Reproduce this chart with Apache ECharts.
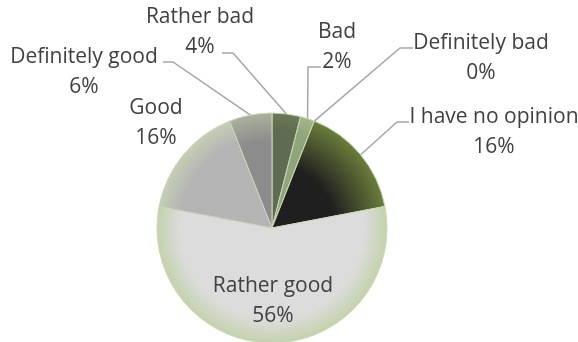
<!DOCTYPE html>
<html>
<head>
<meta charset="utf-8">
<script src="https://cdn.jsdelivr.net/npm/echarts@6/dist/echarts.min.js"></script>
<style>
html,body{margin:0;padding:0;background:#fff;}
#chart{width:578px;height:342px;}
</style>
</head>
<body>
<div id="chart"></div>
<script>
// ---- data ----
const categories = ['Rather bad', 'Bad', 'Definitely bad', 'I have no opinion', 'Rather good', 'Good', 'Definitely good'];
const values = [4, 2, 0, 16, 56, 16, 6];

// ---- styles / layout ----
const CX = 272, CY = 228, R = 115;
const baseColors = ['#5f6b52', '#91a57a', '#7d8f5e', '#1f1f1f', '#dcdcdc', '#b4b4b4', '#8c8c8c'];
const edgeColors = ['#6a7a55', '#a3b78a', '#8ea070', '#6b7e3a', '#c3d2ab', '#c4cfb4', '#a9b19c'];
const innerStops = [0.85, 0.85, 0.85, 0.55, 0.8, 0.8, 0.75];
// label block centre, bend and end of leader line
const labelLayoutCfg = {
  'Rather bad':       {x: 200, y: 32,  bend: [233, 53],  end: [222, 53]},
  'Bad':              {x: 337, y: 47,  bend: [308, 67],  end: [321, 67]},
  'Definitely bad':   {x: 481, y: 58,  bend: [400, 48],  end: [413, 48]},
  'I have no opinion':{x: 494, y: 132, bend: [397, 122], end: [409, 122]},
  'Rather good':      {x: 273, y: 301},
  'Good':             {x: 156, y: 123},
  'Definitely good':  {x: 84,  y: 72,  bend: [173, 62],  end: [163, 62]}
};

const total = values.reduce((a, b) => a + b, 0);
function edgePoint(i) {
  let cum = 0;
  for (let k = 0; k < i; k++) cum += values[k];
  const a = (cum + values[i] / 2) / total * Math.PI * 2;
  return [CX + R * Math.sin(a), CY - R * Math.cos(a)];
}

const data = categories.map((name, i) => ({
  name: name,
  value: values[i],
  itemStyle: {
    color: {
      type: 'radial', x: CX, y: CY, r: R, global: true,
      colorStops: [
        {offset: 0, color: baseColors[i]},
        {offset: innerStops[i], color: baseColors[i]},
        {offset: 1, color: edgeColors[i]}
      ]
    }
  }
}));

const chart = echarts.init(document.getElementById('chart'), null, {renderer: 'canvas'});
chart.setOption({
  animation: false,
  backgroundColor: '#ffffff',
  series: [{
    type: 'pie',
    center: [CX, CY],
    radius: [0, R],
    startAngle: 90,
    clockwise: true,
    minAngle: 0,
    avoidLabelOverlap: false,
    stillShowZeroSum: true,
    data: data,
    itemStyle: {borderColor: '#cbd8b8', borderWidth: 1},
    label: {
      show: true,
      position: 'outside',
      formatter: p => p.name + '\n' + Math.round(p.percent) + '%',
      fontFamily: 'Open Sans',
      fontSize: 21,
      lineHeight: 30,
      color: '#404040',
      align: 'center'
    },
    labelLine: {
      show: true,
      length: 10,
      length2: 10,
      smooth: false,
      lineStyle: {color: '#a6a6a6', width: 1.5}
    },
    labelLayout: function (params) {
      const name = categories[params.dataIndex];
      const cfg = labelLayoutCfg[name];
      const out = {x: cfg.x, y: cfg.y, align: 'center', verticalAlign: 'middle'};
      if (cfg.bend) {
        out.labelLinePoints = [edgePoint(params.dataIndex), cfg.bend, cfg.end];
      } else {
        out.labelLinePoints = [[cfg.x, cfg.y], [cfg.x, cfg.y], [cfg.x, cfg.y]];
      }
      return out;
    },
    emphasis: {disabled: true}
  }]
});
</script>
</body>
</html>
